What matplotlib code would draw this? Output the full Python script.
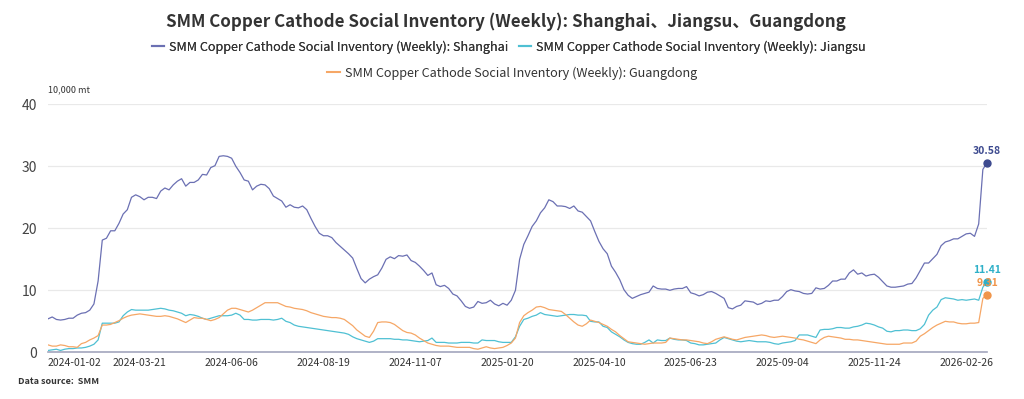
import matplotlib
matplotlib.use("Agg")
import matplotlib.pyplot as plt
from matplotlib.lines import Line2D

plt.rcParams['font.family'] = ['Noto Sans CJK SC', 'DejaVu Sans']

# tick labels on the category axis (one label every 22 reports)
tick_labels = ["2024-01-02", "2024-03-21", "2024-06-06", "2024-08-19", "2024-11-07",
               "2025-01-20", "2025-04-10", "2025-06-23", "2025-09-04", "2025-11-24",
               "2026-02-26"]
tick_step = 22

# 10,000 mt
shanghai = [
    5.4, 5.7, 5.3, 5.2, 5.3, 5.5, 5.5, 6.0, 6.3, 6.4,
    6.8, 7.8, 11.5, 18.1, 18.4, 19.6, 19.6, 20.8, 22.3, 23.0,
    25.0, 25.4, 25.1, 24.6, 25.0, 25.0, 24.8, 26.0, 26.5, 26.2,
    27.0, 27.6, 28.0, 26.8, 27.4, 27.4, 27.8, 28.7, 28.6, 29.8,
    30.1, 31.6, 31.7, 31.6, 31.3, 30.0, 29.0, 27.8, 27.6, 26.2,
    26.8, 27.1, 27.0, 26.4, 25.2, 24.8, 24.4, 23.4, 23.8, 23.4,
    23.3, 23.6, 23.0, 21.6, 20.3, 19.2, 18.8, 18.8, 18.5, 17.7,
    17.1, 16.5, 15.9, 15.2, 13.5, 11.9, 11.2, 11.8, 12.2, 12.5,
    13.6, 15.0, 15.4, 15.1, 15.6, 15.5, 15.7, 14.8, 14.5, 13.9,
    13.2, 12.4, 12.8, 10.9, 10.6, 10.8, 10.3, 9.4, 9.1, 8.3,
    7.4, 7.1, 7.3, 8.2, 7.9, 8.0, 8.4, 7.8, 7.5, 7.9,
    7.6, 8.4, 10.0, 15.0, 17.4, 18.8, 20.3, 21.2, 22.5, 23.3,
    24.6, 24.3, 23.6, 23.6, 23.5, 23.2, 23.6, 22.8, 22.6, 21.9,
    21.2, 19.5, 17.9, 16.7, 15.9, 13.9, 12.9, 11.7, 10.1, 9.2,
    8.7, 9.0, 9.3, 9.5, 9.7, 10.7, 10.3, 10.2, 10.2, 10.0,
    10.2, 10.3, 10.3, 10.6, 9.6, 9.4, 9.1, 9.3, 9.7, 9.8,
    9.5, 9.1, 8.7, 7.2, 7.0, 7.4, 7.6, 8.3, 8.2, 8.1,
    7.7, 7.9, 8.3, 8.2, 8.4, 8.4, 9.0, 9.8, 10.1, 9.9,
    9.8, 9.5, 9.4, 9.5, 10.4, 10.2, 10.3, 10.8, 11.5, 11.5,
    11.8, 11.8, 12.8, 13.3, 12.6, 12.8, 12.3, 12.5, 12.6, 12.1,
    11.4, 10.7, 10.5, 10.5, 10.6, 10.7, 11.0, 11.1, 12.0, 13.2,
    14.4, 14.4, 15.1, 15.8, 17.2, 17.8, 18.0, 18.3, 18.3, 18.7,
    19.1, 19.2, 18.7, 20.7, 29.5, 30.58,
]

jiangsu = [
    0.3, 0.4, 0.5, 0.3, 0.5, 0.6, 0.6, 0.7, 0.7, 0.8,
    1.0, 1.3, 2.0, 4.7, 4.7, 4.7, 4.7, 4.9, 5.9, 6.5,
    6.9, 6.8, 6.8, 6.8, 6.8, 6.9, 7.0, 7.1, 7.0, 6.8,
    6.7, 6.5, 6.3, 5.9, 6.1, 6.0, 5.8, 5.5, 5.3, 5.5,
    5.7, 5.9, 5.9, 5.9, 6.0, 6.3, 6.0, 5.3, 5.3, 5.2,
    5.2, 5.3, 5.3, 5.3, 5.2, 5.3, 5.5, 5.0, 4.8, 4.4,
    4.2, 4.1, 4.0, 3.9, 3.8, 3.7, 3.6, 3.5, 3.4, 3.3,
    3.2, 3.1, 2.9, 2.5, 2.2, 2.0, 1.8, 1.6, 1.8, 2.2,
    2.2, 2.2, 2.2, 2.1, 2.1, 2.0, 2.0, 1.9, 1.8, 1.7,
    1.8, 1.9, 2.3, 1.6, 1.6, 1.6, 1.5, 1.5, 1.5, 1.6,
    1.6, 1.6, 1.5, 1.5, 2.0, 1.9, 1.9, 1.9, 1.7, 1.6,
    1.6, 1.6, 2.5, 4.2, 5.3, 5.5, 5.8, 6.0, 6.4, 6.1,
    6.0, 5.9, 5.8, 5.9, 6.0, 6.1, 6.1, 6.0, 6.0, 5.9,
    5.0, 4.9, 4.9, 4.2, 4.0, 3.3, 2.9, 2.5, 2.0, 1.6,
    1.4, 1.3, 1.3, 1.6, 2.0, 1.5, 2.0, 1.9, 1.9, 2.3,
    2.1, 2.0, 2.0, 1.9, 1.5, 1.4, 1.2, 1.2, 1.3, 1.4,
    1.5, 2.0, 2.4, 2.2, 2.0, 1.8, 1.7, 1.8, 1.9, 1.8,
    1.7, 1.7, 1.7, 1.6, 1.4, 1.3, 1.5, 1.6, 1.7, 1.9,
    2.8, 2.8, 2.8, 2.6, 2.4, 3.6, 3.7, 3.7, 3.8, 4.0,
    4.0, 3.9, 3.9, 4.1, 4.2, 4.4, 4.7, 4.6, 4.4, 4.1,
    3.9, 3.4, 3.3, 3.5, 3.5, 3.6, 3.6, 3.5, 3.5, 3.8,
    4.5, 6.0, 6.8, 7.3, 8.5, 8.8, 8.7, 8.6, 8.4, 8.5,
    8.4, 8.5, 8.6, 8.4, 10.5, 11.41,
]

guangdong = [
    1.2, 1.0, 1.0, 1.2, 1.1, 0.9, 0.9, 0.8, 1.4, 1.6,
    2.0, 2.3, 2.7, 4.4, 4.4, 4.5, 4.8, 5.1, 5.5, 5.8,
    6.0, 6.1, 6.2, 6.1, 6.0, 5.9, 5.8, 5.8, 5.9, 5.8,
    5.6, 5.4, 5.1, 4.8, 5.2, 5.6, 5.5, 5.5, 5.3, 5.1,
    5.3, 5.6, 6.2, 6.8, 7.1, 7.1, 6.9, 6.7, 6.5, 6.8,
    7.2, 7.6, 8.0, 8.0, 8.0, 8.0, 7.7, 7.4, 7.3, 7.1,
    7.0, 6.9, 6.7, 6.4, 6.2, 6.0, 5.8, 5.7, 5.6, 5.6,
    5.5, 5.3, 4.8, 4.3, 3.6, 3.1, 2.6, 2.4, 3.4, 4.8,
    4.9, 4.9, 4.8, 4.5, 4.0, 3.5, 3.2, 3.1, 2.8, 2.3,
    1.9, 1.5, 1.3, 1.1, 1.0, 1.0, 1.0, 0.9, 0.8, 0.8,
    0.8, 0.8, 0.6, 0.5, 0.7, 0.9, 0.7, 0.6, 0.7, 0.8,
    1.1, 1.5, 2.3, 4.8, 5.9, 6.4, 6.8, 7.3, 7.4, 7.2,
    6.9, 6.8, 6.7, 6.6, 6.1, 5.5, 4.9, 4.4, 4.2, 4.6,
    5.2, 5.0, 4.8, 4.5, 4.2, 3.7, 3.3, 2.7, 2.2, 1.7,
    1.6, 1.5, 1.4, 1.3, 1.4, 1.5, 1.5, 1.5, 1.6, 2.3,
    2.2, 2.1, 2.0, 2.0, 1.9, 1.8, 1.7, 1.5, 1.4, 1.7,
    2.1, 2.3, 2.5, 2.3, 2.1, 2.0, 2.2, 2.4, 2.5, 2.6,
    2.7, 2.8, 2.7, 2.5, 2.4, 2.5, 2.6, 2.5, 2.4, 2.3,
    2.1, 2.0, 1.8, 1.6, 1.4, 2.0, 2.4, 2.6, 2.5, 2.4,
    2.3, 2.1, 2.1, 2.0, 2.0, 1.9, 1.8, 1.7, 1.6, 1.5,
    1.4, 1.3, 1.3, 1.3, 1.3, 1.5, 1.5, 1.5, 1.8, 2.6,
    3.0, 3.5, 4.0, 4.4, 4.7, 5.0, 4.9, 4.9, 4.7, 4.6,
    4.6, 4.7, 4.7, 4.8, 8.7, 9.31,
]

names = ["SMM Copper Cathode Social Inventory (Weekly): Shanghai",
         "SMM Copper Cathode Social Inventory (Weekly): Jiangsu",
         "SMM Copper Cathode Social Inventory (Weekly): Guangdong"]
line_colors = ["#6b70b3", "#4fc0d3", "#f6a766"]
label_colors = ["#3d4a8f", "#2eb0c8", "#f0954a"]

fig = plt.figure(figsize=(10.24, 3.99), dpi=100)
ax = fig.add_axes([0.0469, 0.117, 0.917, 0.6216])

x = list(range(len(shanghai)))
for vals, c, lc in zip([shanghai, jiangsu, guangdong], line_colors, label_colors):
    ax.plot(x, vals, color=c, lw=0.9, zorder=3)
    ax.plot(x[-1], vals[-1], 'o', color=lc, ms=5, zorder=4, clip_on=False)
    ax.annotate("%.2f" % vals[-1], (x[-1], vals[-1]), xytext=(0, 5),
                textcoords="offset points", ha="center", va="bottom",
                fontsize=7.5, fontweight="bold", color=lc, zorder=5)

ax.set_xlim(0, len(shanghai) - 1)
ax.set_ylim(0, 40)
ax.set_yticks([0, 10, 20, 30, 40])
ax.set_xticks(range(0, tick_step * len(tick_labels), tick_step))
ax.set_xticklabels(tick_labels)
ax.get_xticklabels()[0].set_horizontalalignment("left")
ax.tick_params(axis='x', length=0, labelsize=7.5, labelcolor="#333333", pad=4)
ax.tick_params(axis='y', length=0, labelsize=10, labelcolor="#444444", pad=8)
ax.grid(axis='y', color="#e9e9e9", lw=0.9)
ax.set_axisbelow(True)
for s in ["top", "right", "left"]:
    ax.spines[s].set_visible(False)
ax.spines["bottom"].set_color("#a3a6bd")
ax.spines["bottom"].set_linewidth(1.2)

fig.text(0.494, 0.945, "SMM Copper Cathode Social Inventory (Weekly): Shanghai、Jiangsu、Guangdong",
         ha="center", va="center", fontsize=12.2, fontweight="bold", color="#333333")
fig.text(0.047, 0.775, "10,000 mt", fontsize=6.5, color="#333333", va="center")
fig.text(0.018, 0.045, "Data source:  SMM", fontsize=6.5, fontweight="bold",
         style="italic", color="#333333", va="center")

handles = [Line2D([], [], color=c, lw=1.5) for c in line_colors]
leg1 = fig.legend(handles[:2], names[:2], loc="center", bbox_to_anchor=(0.497, 0.882),
                  ncol=2, frameon=False, fontsize=9.1, handlelength=1.0,
                  handletextpad=0.4, columnspacing=0.8, labelcolor="#333333")
fig.legend(handles[2:], names[2:], loc="center", bbox_to_anchor=(0.5, 0.817),
           frameon=False, fontsize=9.1, handlelength=1.0, handletextpad=0.4,
           labelcolor="#333333")
fig.add_artist(leg1)

fig.savefig("out.png", dpi=100)
